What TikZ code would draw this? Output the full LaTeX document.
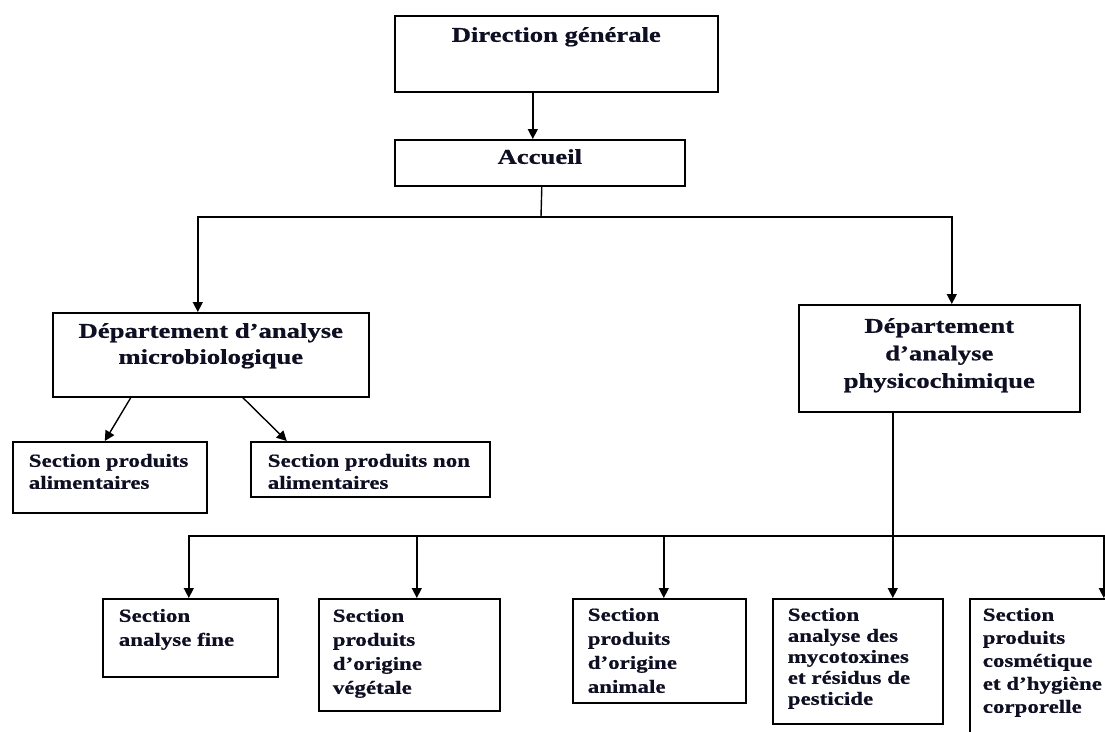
\documentclass[tikz,border=0pt]{standalone}
\usepackage{fontspec}
\usetikzlibrary{arrows.meta}
\newfontfamily\headfont{Liberation Serif Bold}[FakeStretch=1.27, RawFeature={embolden=0.7}]
\newfontfamily\secfont{Liberation Serif Bold}[FakeStretch=1.24, RawFeature={embolden=0.7}]
\definecolor{ink}{RGB}{15,15,35}

% box with a fixed size; text starts from its top edge
% #1 width, #2 height, #3 distance from top edge to first baseline,
% #4 left padding (negative = centred), #5 line spacing, #6 text
\newcommand{\orgbox}[6]{%
  \parbox[c][#2][t]{#1}{%
    \ifdim#4<0pt \centering\headfont\fontsize{21}{#5}\selectfont
    \else \raggedright\setlength\leftskip{#4}\secfont\fontsize{18.5}{#5}\selectfont
    \fi
    \rule{0pt}{#3}#6}}

\begin{document}
\begin{tikzpicture}[x=1pt,y=-1pt,
  unit/.style={draw=black, line width=1.6pt, inner sep=0pt, anchor=north west, text=ink},
  link/.style={draw=black, line width=1.4pt},
  arr/.style={link, -{Triangle[length=10pt,width=10pt]}}]
  \useasboundingbox (0,0) rectangle (1105,731);
  \fill[white] (0,0) rectangle (1105,731);
  \clip (0,0) rectangle (1105,731);

  % management levels
  \node[unit] (dg)  at (394,15)  {\orgbox{323pt}{76pt}{26pt}{-1pt}{27pt}{Direction générale}};
  \node[unit] (acc) at (394,139) {\orgbox{290pt}{46pt}{24pt}{-1pt}{27pt}{Accueil}};

  % departments
  \node[unit] (micro) at (52,312)  {\orgbox{316pt}{84pt}{25pt}{-1pt}{26pt}{Département d’analyse\\ microbiologique}};
  \node[unit] (phys)  at (798,304) {\orgbox{281pt}{107pt}{28pt}{-1pt}{27.5pt}{Département\\ d’analyse\\ physicochimique}};

  % microbiology sections
  \node[unit] (alim)    at (12,441)  {\orgbox{194pt}{71pt}{25pt}{16pt}{22pt}{Section produits\\ alimentaires}};
  \node[unit] (nonalim) at (250,441) {\orgbox{239pt}{55pt}{25pt}{17pt}{22pt}{Section produits non\\ alimentaires}};

  % physico-chemistry sections
  \node[unit] (fine) at (102,598) {\orgbox{175pt}{78pt}{23pt}{16pt}{24pt}{Section\\ analyse fine}};
  \node[unit] (veg)  at (318,598) {\orgbox{181pt}{112pt}{23pt}{14pt}{24pt}{Section\\ produits\\ d’origine\\ végétale}};
  \node[unit] (anim) at (572,598) {\orgbox{173pt}{104pt}{22pt}{15pt}{24pt}{Section\\ produits\\ d’origine\\ animale}};
  \node[unit] (myco) at (772,598) {\orgbox{170pt}{125pt}{22pt}{15pt}{21pt}{Section\\ analyse des\\ mycotoxines\\ et résidus de\\ pesticide}};
  \node[unit] (cosm) at (969,598) {\orgbox{170pt}{160pt}{22pt}{13pt}{23pt}{Section\\ produits\\ cosmétique\\ et d’hygiène\\ corporelle}};

  % connectors
  \draw[arr] ([xshift=-23.5pt]dg.south) -- ([xshift=-23.5pt]dg.south |- acc.north);

  \coordinate (j1) at (541,217);
  \draw[link] ([xshift=2pt]acc.south) -- (j1);
  \draw[arr] (j1) -| ([xshift=-13pt]micro.north);
  \draw[arr] (j1) -| ([xshift=12.5pt]phys.north);

  \draw[arr] ([xshift=-80pt]micro.south) -- ([xshift=-5pt]alim.north);
  \draw[arr] ([xshift=32pt]micro.south) -- ([xshift=-83.5pt]nonalim.north);

  \coordinate (j2) at (892,536);
  \draw[arr] ([xshift=-46.5pt]phys.south) -- ([xshift=-46.5pt]phys.south |- myco.north);
  \draw[arr] (j2) -| ([xshift=-1.5pt]fine.north);
  \draw[arr] (j2) -| ([xshift=7.5pt]veg.north);
  \draw[arr] (j2) -| ([xshift=4.5pt]anim.north);
  \draw[arr] (j2) -| ([xshift=49pt]cosm.north);
  \coordinate (edge) at (1110,536);
  \draw[link] (j2) -- (edge);
\end{tikzpicture}
\end{document}
